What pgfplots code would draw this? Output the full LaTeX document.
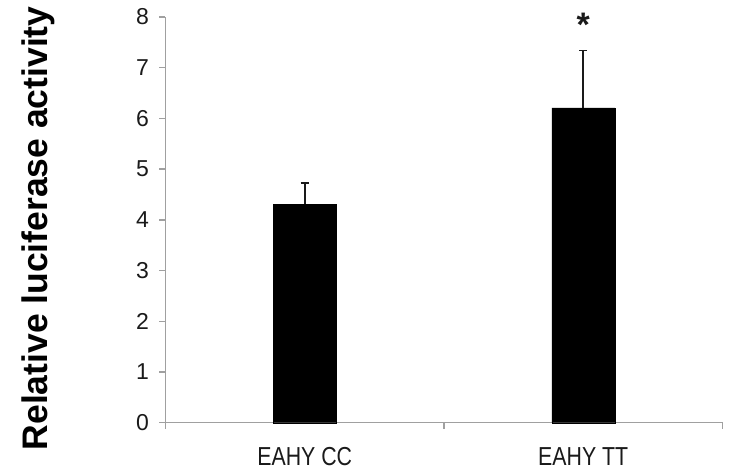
\documentclass[border=0pt]{standalone}
\usepackage{fontspec}
\setmainfont{Liberation Sans}
\newfontfamily\narrowsans[FakeStretch=0.82]{Liberation Sans}
\usepackage{pgfplots}
\pgfplotsset{compat=1.18}
\definecolor{axgray}{HTML}{A0A0A0}
\definecolor{ink}{HTML}{1A1A1A}

\begin{document}
\begin{tikzpicture}
\begin{axis}[
  scale only axis, width=557bp, height=405.7bp,
  clip=false,
  xmin=0.5, xmax=2.5, ymin=0, ymax=8,
  axis x line*=bottom, axis y line*=left,
  axis line style={draw=axgray, line width=1.4bp},
  tick align=outside, major tick length=6bp,
  every tick/.style={draw=axgray, line width=1.4bp},
  ytick={0,...,8},
  /pgf/number format/assume math mode=true,
  yticklabel style={font=\fontsize{23bp}{26bp}\selectfont, text=ink, xshift=-7bp},
  % category boundaries carry the ticks, names sit between them
  xtick={0.5,1.5,2.5}, xticklabels={},
  extra x ticks={1,2}, extra x tick labels={EAHY CC,EAHY TT},
  extra x tick style={major tick length=0pt,
    tick label style={font=\narrowsans\fontsize{26bp}{30bp}\selectfont,
      text=ink, anchor=base, yshift=-43bp}},
  ylabel={Relative luciferase activity},
  ylabel style={at={(axis description cs:-0.2124,0.479)}, anchor=base,
    font=\bfseries\fontsize{35.5bp}{40bp}\selectfont, text=black},
]
\addplot[ybar, bar width=63bp, fill=black, draw=black,
  error bars/.cd, y dir=plus, y explicit,
  error bar style={line width=1.9bp, draw=ink},
  error mark options={rotate=90, line width=1.9bp, draw=ink, mark size=4bp}]
  coordinates {(1,4.31) +- (0,0.41) (2,6.21) +- (0,1.13)};
\node[font=\bfseries\fontsize{34bp}{34bp}\selectfont, text=ink, anchor=base]
  at (axis cs:2,7.62) {*};
\coordinate (O) at (rel axis cs:0,0);
\end{axis}
\pgfresetboundingbox
\path (O) ++(-165.5bp,-52.3bp) rectangle ++(730bp,475bp);
\end{tikzpicture}
\end{document}
